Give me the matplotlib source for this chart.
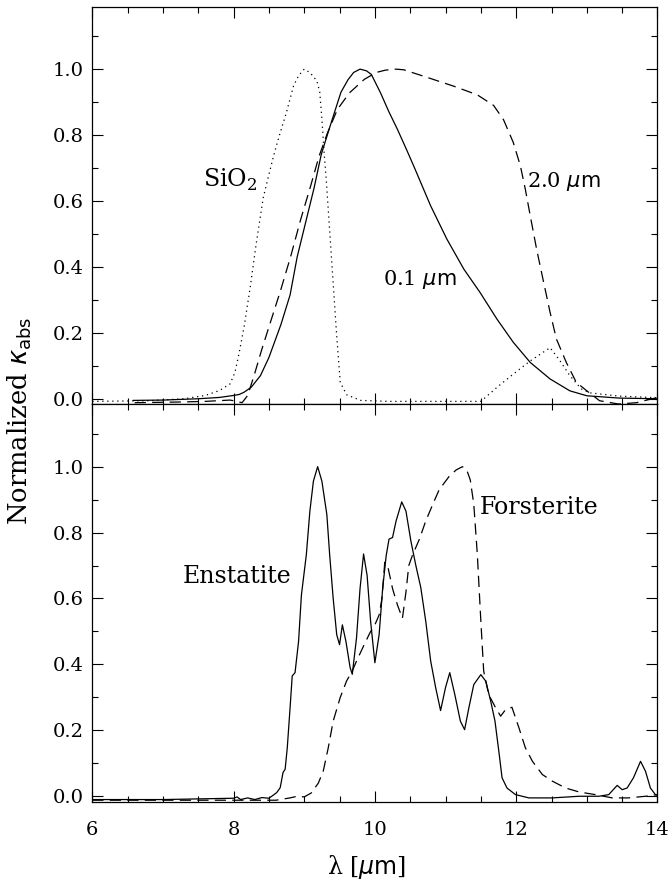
"""Normalized absorption profiles of silicate grains: amorphous sizes (top) and crystals (bottom)."""

import matplotlib

matplotlib.use("Agg")
import matplotlib.pyplot as plt
from matplotlib.ticker import MultipleLocator

# top panel, 0.1 um grains (solid)
small_wl = [6.58, 7.0, 7.5, 7.8, 8.0, 8.08, 8.15, 8.25, 8.38, 8.5, 8.67, 8.8, 8.9, 9.02, 9.14,
            9.24, 9.29, 9.4, 9.52, 9.62, 9.7, 9.79, 9.88, 9.95, 10.08, 10.2, 10.32, 10.45, 10.55,
            10.79, 11.02, 11.26, 11.49, 11.73, 11.96, 12.2, 12.48, 12.76, 13.0, 13.46, 14.0]
small_k = [-0.005, -0.004, 0.0, 0.004, 0.01, 0.013, 0.02, 0.035, 0.07, 0.125, 0.225, 0.315, 0.43,
           0.535, 0.64, 0.74, 0.775, 0.85, 0.93, 0.968, 0.99, 1.0, 0.995, 0.984, 0.928, 0.87,
           0.817, 0.755, 0.706, 0.585, 0.484, 0.393, 0.322, 0.241, 0.171, 0.11, 0.06, 0.024,
           0.009, 0.002, 0.0]

# top panel, 2.0 um grains (dashed)
large_wl = [6.6, 7.2, 7.6, 7.95, 8.05, 8.12, 8.2, 8.29, 8.4, 8.52, 8.67, 8.81, 8.95, 9.09, 9.21,
            9.33, 9.47, 9.64, 9.85, 10.02, 10.15, 10.3, 10.41, 10.74, 11.12, 11.45, 11.68, 11.82,
            11.96, 12.06, 12.13, 12.2, 12.29, 12.39, 12.48, 12.57, 12.71, 12.85, 13.0, 13.18,
            13.45, 13.7, 14.0]
large_k = [-0.012, -0.01, -0.008, -0.004, -0.008, -0.012, 0.01, 0.07, 0.15, 0.231, 0.332, 0.433,
           0.544, 0.645, 0.736, 0.807, 0.878, 0.928, 0.969, 0.99, 0.997, 1.0, 0.998, 0.975,
           0.948, 0.922, 0.89, 0.847, 0.777, 0.706, 0.635, 0.554, 0.453, 0.352, 0.262, 0.181,
           0.11, 0.05, 0.024, -0.006, -0.016, -0.012, 0.004]

# top panel, SiO2 (dotted)
sio2_wl = [6.0, 6.8, 7.3, 7.6, 7.8, 7.95, 8.02, 8.08, 8.15, 8.23, 8.32, 8.42, 8.5, 8.57, 8.65,
           8.75, 8.85, 8.92, 9.0, 9.08, 9.18, 9.22, 9.25, 9.28, 9.31, 9.36, 9.41, 9.46, 9.51, 9.6,
           9.8, 10.2, 11.0, 11.5, 11.73, 11.96, 12.2, 12.48, 12.62, 12.76, 12.92, 13.04, 13.46,
           14.0]
sio2_k = [-0.008, -0.006, 0.0, 0.01, 0.025, 0.045, 0.08, 0.14, 0.22, 0.33, 0.47, 0.61, 0.68,
          0.74, 0.8, 0.87, 0.95, 0.98, 1.0, 0.99, 0.964, 0.93, 0.85, 0.75, 0.67, 0.51, 0.35,
          0.19, 0.05, 0.012, -0.005, -0.008, -0.008, -0.008, 0.035, 0.075, 0.115, 0.155, 0.115,
          0.07, 0.03, 0.018, 0.008, 0.003]

# bottom panel, enstatite (solid)
ens_wl = [6.0, 7.0, 8.0, 8.05, 8.1, 8.2, 8.3, 8.4, 8.5, 8.54, 8.61, 8.66, 8.7, 8.73, 8.76, 8.8,
          8.83, 8.87, 8.92, 8.96, 9.03, 9.08, 9.13, 9.19, 9.25, 9.32, 9.36, 9.41, 9.46, 9.5, 9.54,
          9.59, 9.65, 9.68, 9.74, 9.79, 9.84, 9.89, 9.94, 10.0, 10.06, 10.11, 10.16, 10.2, 10.25,
          10.3, 10.38, 10.44, 10.51, 10.58, 10.65, 10.72, 10.79, 10.86, 10.93, 11.0, 11.06,
          11.13, 11.21, 11.27, 11.33, 11.4, 11.5, 11.57, 11.64, 11.7, 11.76, 11.8, 11.87, 11.99,
          12.18, 12.51, 12.89, 13.17, 13.31, 13.43, 13.5, 13.57, 13.66, 13.76, 13.83, 13.9,
          13.97, 14.0]
ens_k = [-0.01, -0.01, -0.006, -0.002, -0.01, -0.005, -0.01, -0.004, -0.006, 0.0, 0.011, 0.026,
         0.072, 0.082, 0.147, 0.269, 0.365, 0.375, 0.47, 0.61, 0.733, 0.865, 0.956, 1.0, 0.956,
         0.855, 0.733, 0.6, 0.49, 0.46, 0.52, 0.47, 0.39, 0.37, 0.48, 0.63, 0.735, 0.67, 0.53,
         0.405, 0.49, 0.63, 0.73, 0.78, 0.785, 0.835, 0.893, 0.865, 0.774, 0.7, 0.633, 0.531,
         0.41, 0.33, 0.26, 0.33, 0.375, 0.31, 0.228, 0.202, 0.268, 0.339, 0.369, 0.349, 0.288,
         0.228, 0.127, 0.056, 0.025, 0.005, -0.005, -0.005, 0.0, 0.0, 0.005, 0.033, 0.02, 0.025,
         0.056, 0.106, 0.076, 0.025, 0.005, 0.003]

# bottom panel, forsterite (dashed)
for_wl = [6.0, 8.0, 8.6, 8.8, 8.9, 9.0, 9.1, 9.2, 9.27, 9.34, 9.41, 9.51, 9.6, 9.68, 9.74, 9.84,
          9.93, 10.0, 10.06, 10.1, 10.14, 10.19, 10.25, 10.32, 10.39, 10.44, 10.48, 10.53, 10.63,
          10.72, 10.82, 10.91, 11.05, 11.15, 11.24, 11.3, 11.35, 11.4, 11.45, 11.5, 11.54, 11.61,
          11.71, 11.78, 11.85, 11.94, 12.04, 12.13, 12.23, 12.37, 12.51, 12.7, 12.89, 13.12,
          13.36, 13.59, 13.83, 14.0]
for_k = [-0.012, -0.012, -0.012, -0.005, 0.0, -0.002, 0.01, 0.04, 0.077, 0.147, 0.228, 0.3,
         0.35, 0.38, 0.41, 0.456, 0.496, 0.52, 0.55, 0.6, 0.71, 0.69, 0.63, 0.58, 0.54, 0.62,
         0.7, 0.73, 0.78, 0.835, 0.886, 0.93, 0.97, 0.99, 1.0, 0.99, 0.96, 0.886, 0.734, 0.531,
         0.38, 0.309, 0.268, 0.243, 0.263, 0.27, 0.207, 0.147, 0.106, 0.066, 0.046, 0.025, 0.013,
         0.005, -0.005, -0.005, 0.0, 0.005]

DASHED = (0, (9, 5))
DOTTED = (0, (1, 3))

plt.rcParams["font.family"] = ["DejaVu Serif"]
plt.rcParams["mathtext.fontset"] = "dejavusans"


def style_axis(ax, show_xlabels):
    ax.set_xlim(6, 14)
    ax.set_ylim(-0.016, 1.19)
    ax.xaxis.set_major_locator(MultipleLocator(2))
    ax.xaxis.set_minor_locator(MultipleLocator(0.5))
    ax.yaxis.set_major_locator(MultipleLocator(0.2))
    ax.yaxis.set_minor_locator(MultipleLocator(0.1))
    ax.yaxis.set_major_formatter(lambda v, pos: f"{v:.1f}")
    ax.tick_params(which="both", direction="in", top=True, right=True, width=0.8,
                   labelsize=14, labelbottom=show_xlabels)
    ax.tick_params(which="major", length=8)
    ax.tick_params(which="minor", length=4.5)
    ax.tick_params(axis="x", pad=14)
    ax.tick_params(axis="y", pad=6)
    for spine in ax.spines.values():
        spine.set_linewidth(0.9)


fig = plt.figure(figsize=(6.72, 8.81), dpi=100)
ax_top = fig.add_axes([0.1373, 0.5414, 0.8411, 0.4512])
ax_bot = fig.add_axes([0.1373, 0.0902, 0.8411, 0.4512])

ax_top.plot(small_wl, small_k, color="black", lw=0.9)
ax_top.plot(large_wl, large_k, color="black", lw=0.9, linestyle=DASHED)
ax_top.plot(sio2_wl, sio2_k, color="black", lw=0.9, linestyle=DOTTED)
ax_top.text(7.57, 0.643, r"SiO$_\mathregular{2}$", fontsize=17, va="baseline")
ax_top.text(12.15, 0.643, r"2.0 $\mu\mathrm{m}$", fontsize=15, va="baseline")
ax_top.text(10.12, 0.344, r"0.1 $\mu\mathrm{m}$", fontsize=15, va="baseline")
style_axis(ax_top, False)

ax_bot.plot(ens_wl, ens_k, color="black", lw=0.9)
ax_bot.plot(for_wl, for_k, color="black", lw=0.9, linestyle=DASHED)
ax_bot.text(8.82, 0.648, "Enstatite", fontsize=17, ha="right", va="baseline")
ax_bot.text(11.49, 0.857, "Forsterite", fontsize=17, va="baseline")
style_axis(ax_bot, True)

fig.text(0.030, 0.522, r"Normalized $\kappa_{\mathrm{abs}}$", fontsize=18.5, rotation=90,
         ha="center", va="center")
fig.text(0.5457, 0.0159, r"λ [$\mu\mathrm{m}$]", fontsize=17, ha="center", va="center")

fig.savefig("out.png", dpi=100)
